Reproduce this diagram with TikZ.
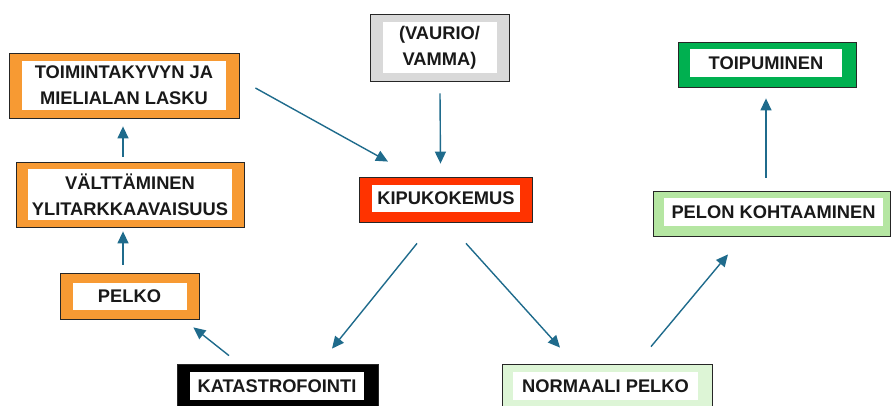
\documentclass[tikz,border=0pt]{standalone}
\usepackage{fontspec}
\setmainfont{Liberation Sans}
\usetikzlibrary{calc,arrows.meta}
\definecolor{orangeband}{HTML}{F79A33}
\definecolor{grayband}{HTML}{D9D9D9}
\definecolor{redband}{HTML}{FF3300}
\definecolor{greenband}{HTML}{00B050}
\definecolor{lightgreen}{HTML}{B5E6A2}
\definecolor{palegreen}{HTML}{DDF5D6}
\definecolor{arrowblue}{HTML}{1F6B8C}
\tikzset{
    band/.style={draw=black!85,line width=0.8pt,fill=#1,inner sep=0pt},
    boxtext/.style={fill=white,inner sep=0pt,align=center,text=black!90,font=\bfseries\fontsize{18.3}{26}\selectfont},
    flow/.style={-{Triangle[length=12pt,width=11pt]},draw=arrowblue,line width=1.4pt}
}
\begin{document}
\begin{tikzpicture}[x=1pt,y=-1pt]
\useasboundingbox (0,0) rectangle (891,406);
% left column
\node[band=orangeband,minimum width=230pt,minimum height=65pt] (toim) at (124,85.5) {};
\node[boxtext,minimum width=204pt,minimum height=49pt] (toimtext) at (toim.center) {TOIMINTAKYVYN JA\\MIELIALAN LASKU};
\node[band=orangeband,minimum width=228pt,minimum height=65pt] (valt) at (130,194.5) {};
\node[boxtext,minimum width=204pt,minimum height=50pt] (valttext) at (valt.center) {VÄLTTÄMINEN\\YLITARKKAAVAISUUS};
\node[band=orangeband,minimum width=139pt,minimum height=46pt] (pelko) at (129.5,296) {};
\node[boxtext,minimum width=114pt,minimum height=27pt] (pelkotext) at (pelko.center) {PELKO};
\node[band=black,minimum width=201pt,minimum height=46pt] (kata) at (277.5,387) {};
\node[boxtext,minimum width=174pt,minimum height=28pt] (katatext) at (277,386) {KATASTROFOINTI};
% middle
\node[band=grayband,minimum width=139pt,minimum height=67pt] (vaur) at (439.5,47.5) {};
\node[boxtext,minimum width=114pt,minimum height=51pt] (vaurtext) at (vaur.center) {(VAURIO/\\VAMMA)};
\node[band=redband,minimum width=173pt,minimum height=45pt] (kipu) at (445.5,199.5) {};
\node[boxtext,minimum width=148pt,minimum height=27pt] (kiputext) at (446,198.5) {KIPUKOKEMUS};
% right column
\node[band=palegreen,minimum width=210pt,minimum height=46pt] (norm) at (607,387) {};
\node[boxtext,minimum width=185pt,minimum height=28pt] (normtext) at (605.5,386) {NORMAALI PELKO};
\node[band=lightgreen,minimum width=237pt,minimum height=45pt] (pelon) at (771.5,213.5) {};
\node[boxtext,minimum width=219pt,minimum height=27pt] (pelontext) at (773.5,212) {PELON KOHTAAMINEN};
\node[band=greenband,minimum width=178pt,minimum height=45pt] (toip) at (767,64.5) {};
\node[boxtext,minimum width=152pt,minimum height=28pt] (toiptext) at (766,63) {TOIPUMINEN};
% arrows
\draw[flow] ($(toim.east)+(16,2.5)$) -- ($(kipu.north)+(-57.5,-15)$);
\draw[flow] ($(vaur.south)+(0.5,12)$) -- ($(kipu.north)+(-5,-13)$);
\draw[flow] ($(valt.north)+(-7,-5)$) -- ($(toim.south)+(-1,8)$);
\draw[flow] ($(pelko.north)+(-6.5,-8)$) -- ($(valt.south)+(-7,4)$);
\draw[flow] ($(kata.north)+(-48.5,-8)$) -- ($(pelko.south east)+(-6,8)$);
\draw[flow] ($(kipu.south)+(-28.5,21)$) -- ($(kata.north)+(54.5,-15)$);
\draw[flow] ($(kipu.south)+(20.5,21)$) -- ($(norm.north)+(-47,-16)$);
\draw[flow] ($(norm.north)+(44,-17)$) -- ($(pelon.south)+(-43.5,18)$);
\draw[flow] ($(pelon.north)+(-5.5,-13)$) -- ($(toip.south)+(-1,11)$);
\end{tikzpicture}
\end{document}
